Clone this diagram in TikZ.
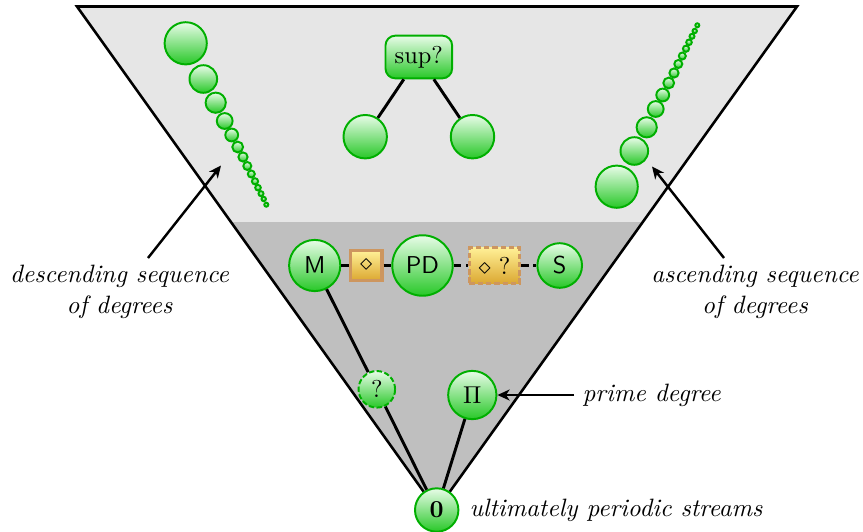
\documentclass[tikz,border=0pt]{standalone}
\usepackage{amsmath}
\usetikzlibrary{arrows.meta,calc}
\definecolor{gtop}{RGB}{232,252,232}
\definecolor{gbot}{RGB}{40,200,40}
\definecolor{gborder}{RGB}{0,175,0}
\definecolor{ytop}{RGB}{255,240,150}
\definecolor{ybot}{RGB}{220,168,50}
\definecolor{yborder}{RGB}{205,150,95}
\definecolor{lightg}{RGB}{230,230,230}
\definecolor{darkg}{RGB}{191,191,191}
\begin{document}
\begin{tikzpicture}[x=0.41pt,y=-0.41pt,
  ball/.style={circle, draw=gborder, line width=0.8pt, top color=gtop, bottom color=gbot, inner sep=0pt},
  seqball/.style={draw=gborder, line width=0.8pt, top color=gtop, bottom color=gbot},
  ybox/.style={rectangle, draw=yborder, line width=1.3pt, top color=ytop, bottom color=ybot, inner sep=0pt},
  conn/.style={line width=1.2pt, black},
  dconn/.style={line width=1.2pt, black, dash pattern=on 3pt off 2pt},
  arr/.style={line width=1pt, -{Stealth[length=5pt,width=4.5pt,inset=1.5pt]}},
  lbl/.style={font=\fontsize{10.3}{12.6}\selectfont\itshape, align=center, inner sep=3.33pt}]
\useasboundingbox (0,0) rectangle (863,531);
\coordinate (TL) at (77,6.5);
\coordinate (TR) at (797,6.5);
\coordinate (A) at (436.7,510);
% background
\fill[lightg] (TL) -- (TR) -- (A) -- cycle;
\begin{scope}
  \clip (TL) -- (TR) -- (A) -- cycle;
  \fill[darkg] (0,222) rectangle (863,531);
\end{scope}
\draw[line width=1.05pt, line join=miter] (TL) -- (TR) -- (A) -- cycle;
% sequences
\foreach \x/\y/\r in {185.7/43.3/22, 203.3/79/14.7, 215.7/102.7/11, 224.7/121/8.8,
  231.7/135/7.3, 237.7/147/6.3, 243/157/5.5, 247.3/166/4.9, 251.3/174/4.4,
  255/181.3/4, 258/187.7/3.7, 261/193.7/3.4, 263.7/199/3.1, 266.3/204.7/2.9}{
  \shadedraw[seqball] (\x,\y) circle[radius={(\r-0.9)*0.41pt}];
  \shadedraw[seqball] (\x+431,230-\y) circle[radius={(\r-0.9)*0.41pt}];
}
% sup tree
\node[ball, rectangle, rounded corners=4pt, minimum width=27.3pt, minimum height=17.5pt] (sup) at (418.8,57) {sup?};
\node[ball, minimum size=17.8pt] (l) at (365.2,136.7) {};
\node[ball, minimum size=17.8pt] (r) at (472.5,136.7) {};
\draw[conn] (sup) -- (l);
\draw[conn] (sup) -- (r);
% middle row
\node[ball, minimum size=21pt, font=\sffamily] (M) at (314.7,265.5) {M};
\node[ybox, minimum width=12.8pt, minimum height=12pt] (b1) at (366.3,265.5) {$\diamond$};
\node[ball, minimum size=24.8pt, font=\sffamily] (PD) at (422.5,265.5) {PD};
\node[ybox, dash pattern=on 2.2pt off 1.2pt, minimum width=20.6pt, minimum height=14.6pt] (b2) at (494.5,265.5) {$\diamond$ ?};
\node[ball, minimum size=18.3pt, font=\sffamily] (S) at (559.7,265.5) {S};
\draw[conn] (M) -- (b1);
\draw[conn] (b1) -- (PD);
\draw[dconn] (PD) -- (b2);
\draw[dconn] (b2) -- (S);
% lower
\node[ball, dash pattern=on 2.2pt off 1pt, minimum size=15pt] (q) at (376.8,389.3) {?};
\node[ball, minimum size=19.8pt] (Pi) at (472.3,395) {$\Pi$};
\node[ball, minimum size=17.8pt] (Z) at (A) {$\mathbf{0}$};
\draw[conn] (M) -- (q);
\draw[conn] (q) -- (Z);
\draw[conn] (Pi) -- (Z);
% labels
\node[lbl] (desc) at (119.5,292) {descending sequence\\of degrees};
\node[lbl] (asc) at (755,292) {ascending sequence\\of degrees};
\node[lbl, anchor=west] (prime) at (574,395) {prime degree};
\node[lbl, anchor=west] (ult) at (461,510) {ultimately periodic streams};
\coordinate (d1) at (148,258);
\coordinate (d2) at (221,165.5);
\coordinate (a1) at (724,258);
\coordinate (a2) at (652,166.5);
\draw[arr] (d1) -- (d2);
\draw[arr] (a1) -- (a2);
\draw[arr] (prime.west) -- (Pi);
\end{tikzpicture}
\end{document}
